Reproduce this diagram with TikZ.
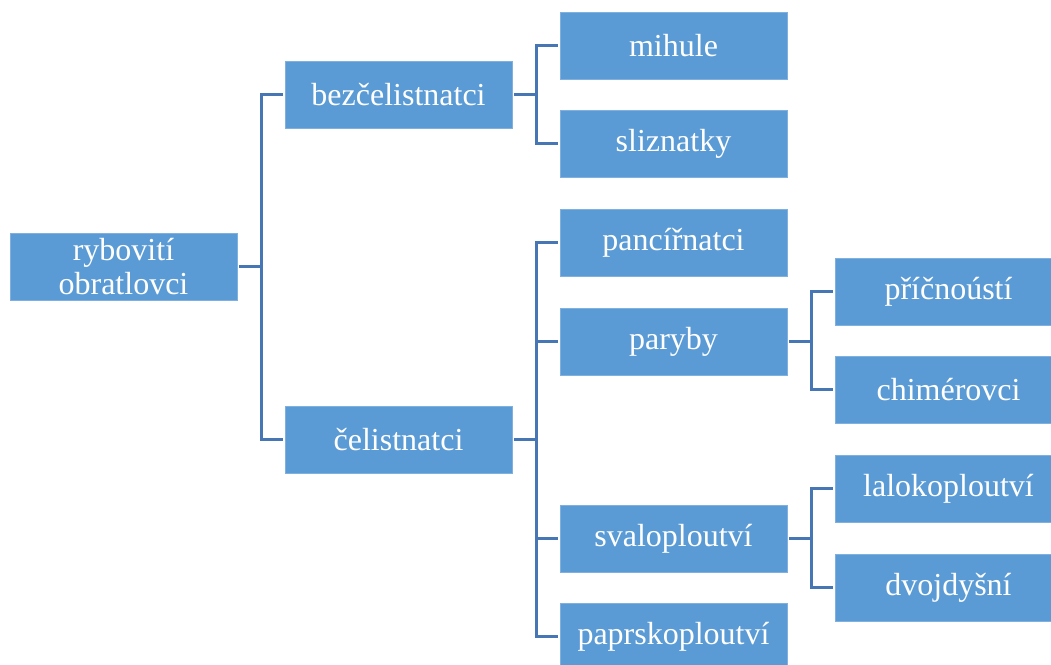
\documentclass[tikz,border=0pt]{standalone}
\usepackage{fontspec}
\setmainfont{Liberation Serif}
\definecolor{boxblue}{HTML}{5B9BD5}
\definecolor{boxedge}{HTML}{7FB0E0}
\definecolor{linkblue}{HTML}{4677B4}
\begin{document}
\begin{tikzpicture}[x=1pt,y=-1pt,
  taxon/.style={rectangle, fill=boxblue, draw=boxedge, line width=0.6pt,
    minimum width=227pt, minimum height=67pt, inner sep=0pt,
    text=white, align=center, font=\fontsize{32}{34}\selectfont},
  link/.style={draw=linkblue, line width=3pt, line cap=rect}]
\useasboundingbox (0,0) rectangle (1051,664);

% level 0
\node[taxon] (root) at (123.5,266.5) {rybovití\\obratlovci};
% level 1
\node[taxon] (bez) at (398.5,94.5) {bezčelistnatci};
\node[taxon] (cel) at (398.5,439.5) {čelistnatci};
% level 2
\node[taxon] (mih) at (673.5,45.5) {mihule};
\node[taxon] (sli) at (673.5,143.5) {sliznatky};
\node[taxon] (pan) at (673.5,242.5) {pancířnatci};
\node[taxon] (par) at (673.5,341.5) {paryby};
\node[taxon] (sva) at (673.5,538.5) {svaloploutví};
\node[taxon] (pap) at (673.5,636.5) {paprskoploutví};
% level 3
\node[taxon] (pri) at (948.5,291.5) {příčnoústí};
\node[taxon] (chi) at (948.5,389.5) {chimérovci};
\node[taxon] (lal) at (948.5,488.5) {lalokoploutví};
\node[taxon] (dvo) at (948.5,587.5) {dvojdyšní};

% elbow connectors parent -> child
\foreach \p/\c in {root/bez, root/cel,
                   bez/mih, bez/sli,
                   cel/pan, cel/par, cel/sva, cel/pap,
                   par/pri, par/chi,
                   sva/lal, sva/dvo}
  \draw[link] ([xshift=3pt]\p.east) -- ++(21,0) |- ([xshift=-3pt]\c.west);
\end{tikzpicture}
\end{document}
